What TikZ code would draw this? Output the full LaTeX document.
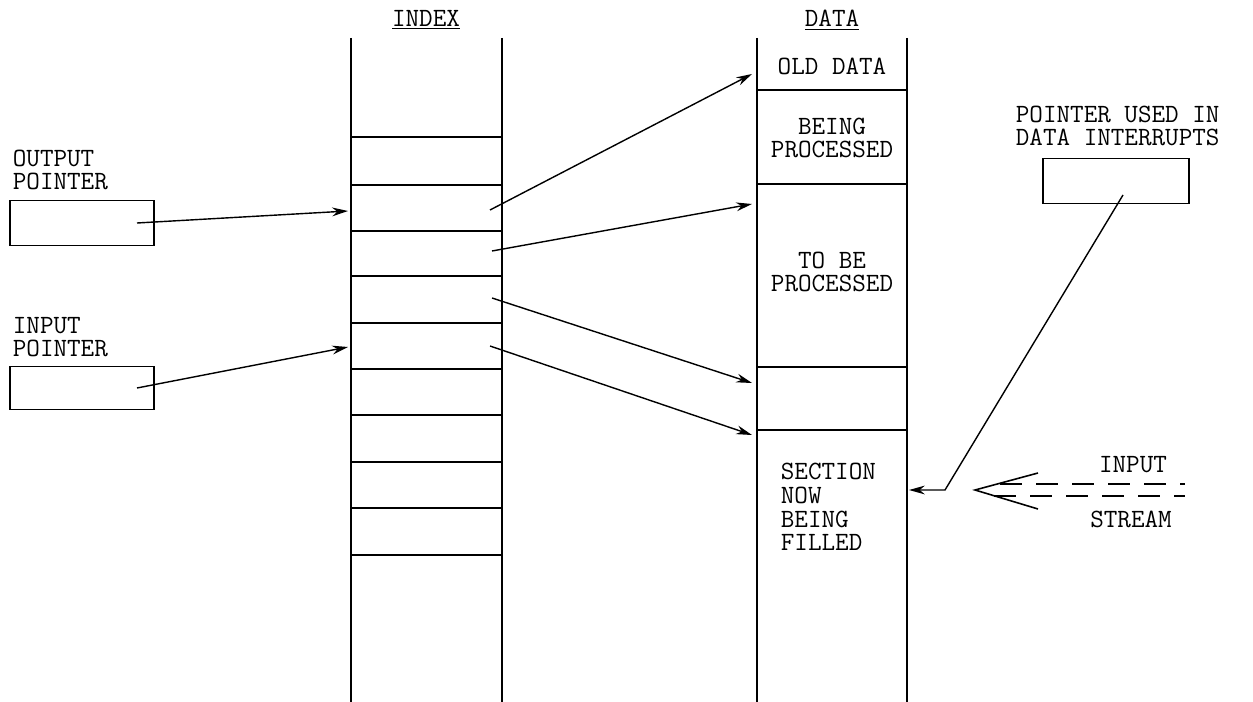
\documentclass[tikz,border=0pt]{standalone}
\usetikzlibrary{positioning}
\usetikzlibrary{arrows.meta}

\tikzset{
    txt/.style={font=\ttfamily\fontsize{15}{13.5}\selectfont, inner sep=0pt},
    ptrbox/.style={draw, line width=1pt, minimum width=2.88cm, minimum height=0.9cm, inner sep=0pt},
    ptrarrow/.style={line width=0.8pt, -{Stealth[length=9pt,width=5pt]}},
}

\begin{document}
\begin{tikzpicture}[x=0.02cm, y=-0.02cm, line width=1pt]
        \useasboundingbox (0,0) rectangle (1253,702);

        % column headings
        \node (indexlbl)[txt] at (426,20) {\underline{INDEX}};
        \node (datalbl)[txt] at (832,20) {\underline{DATA}};

        % index column
        \draw (351,38) -- (351,702);
        \draw (502,38) -- (502,702);
        \foreach \y in {137,185,231,276,323,369,415,462,508,555}
            \draw (351,\y) -- (502,\y);

        % data column
        \draw (757,38) -- (757,702);
        \draw (907,38) -- (907,702);
        \foreach \y in {90,184,367,430}
            \draw (757,\y) -- (907,\y);

        \node (olddata)[txt] at (832,66) {OLD DATA};
        \node (beingproc)[txt, align=center] at (832,138) {BEING\\PROCESSED};
        \node (tobeproc)[txt, align=center] at (832,272) {TO BE\\PROCESSED};
        \node (filling)[txt, align=left, anchor=west] at (780,507) {SECTION\\NOW\\BEING\\FILLED};

        % pointers
        \node (outlbl)[txt, align=left, anchor=west] at (12,170) {OUTPUT\\POINTER};
        \node (outptr)[ptrbox] at (82,223) {};
        \node (inlbl)[txt, align=left, anchor=west] at (12,337) {INPUT\\POINTER};
        \node (inptr)[ptrbox, minimum height=0.86cm] at (82,388) {};
        \node (intlbl)[txt, align=left, anchor=west] at (1015,126) {POINTER USED IN\\DATA INTERRUPTS};
        \node (intptr)[ptrbox, minimum width=2.92cm] at (1116,181) {};

        \coordinate (outsrc) at (137,223);
        \coordinate (insrc) at (137,388);
        \coordinate (outcell) at (348,211);
        \coordinate (incell) at (348,347);
        \coordinate (cellA) at (490,210);
        \coordinate (cellB) at (492,251);
        \coordinate (cellC) at (492,298);
        \coordinate (cellD) at (490,346);
        \coordinate (oldend) at (752,74);
        \coordinate (procend) at (752,204);
        \coordinate (tobeend) at (752,383);
        \coordinate (fillstart) at (752,435);
        \coordinate (intsrc) at (1123,195);
        \coordinate (intbend) at (945,490);
        \coordinate (fillpos) at (909,490);

        \draw[ptrarrow] (outsrc) -- (outcell);
        \draw[ptrarrow] (insrc) -- (incell);
        \draw[ptrarrow] (cellA) -- (oldend);
        \draw[ptrarrow] (cellB) -- (procend);
        \draw[ptrarrow] (cellC) -- (tobeend);
        \draw[ptrarrow] (cellD) -- (fillstart);
        \draw[ptrarrow] (intsrc) -- (intbend) -- (fillpos);

        % input stream
        \node (streamin)[txt] at (1133,465) {INPUT};
        \node (streamname)[txt] at (1131,519) {STREAM};
        \coordinate (streamtip) at (975,490);
        \draw[line width=0.9pt] (1038,473) -- (streamtip) -- (1038,509);
        \draw[line width=0.9pt, dash pattern=on 12.5pt off 8pt] (1000,484) -- (1185,484);
        \draw[line width=0.9pt, dash pattern=on 12.5pt off 8pt] (994,496) -- (1185,496);

    \end{tikzpicture}
\end{document}
